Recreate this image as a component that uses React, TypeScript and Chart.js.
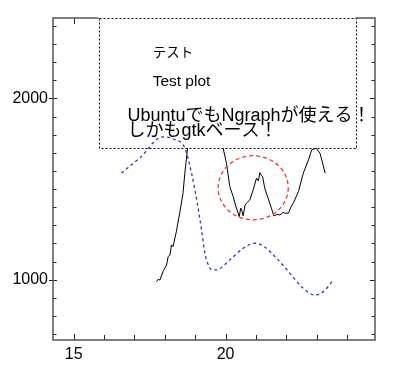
import React, { useEffect, useRef } from "react";
import { Chart, registerables } from "chart.js";

Chart.register(...registerables);

// black noisy measurement line
const blackX = [17.73, 17.78, 17.84, 17.94, 18.06, 18.11, 18.17, 18.22, 18.27, 18.38, 18.49, 18.6, 18.66, 18.75, 18.9, 19.4, 19.8, 19.92, 20.03, 20.14, 20.25, 20.36, 20.45, 20.5, 20.53, 20.58, 20.64, 20.69, 20.8, 20.91, 21.02, 21.08, 21.13, 21.18, 21.22, 21.29, 21.4, 21.51, 21.59, 21.7, 21.79, 21.9, 21.96, 22.07, 22.15, 22.23, 22.4, 22.56, 22.73, 22.84, 22.98, 23.11, 23.28];
const blackY = [989, 1002, 998, 1044, 1081, 1127, 1136, 1192, 1182, 1265, 1367, 1477, 1588, 1726, 1820, 1880, 1790, 1726, 1643, 1514, 1459, 1394, 1348, 1395, 1385, 1352, 1410, 1422, 1440, 1496, 1560, 1545, 1591, 1575, 1569, 1505, 1450, 1394, 1352, 1360, 1357, 1372, 1367, 1367, 1400, 1422, 1486, 1588, 1661, 1717, 1726, 1698, 1588];

// blue dashed smooth curve
const blueX = [16.57, 17.18, 17.93, 18.3, 18.66, 18.88, 19.07, 19.21, 19.32, 19.42, 19.54, 19.7, 20.14, 20.58, 20.97, 21.24, 21.68, 22.12, 22.56, 22.95, 23.22, 23.55];
const blueY = [1588, 1672, 1788, 1775, 1726, 1588, 1422, 1275, 1146, 1087, 1054, 1054, 1109, 1173, 1201, 1186, 1118, 1035, 952, 915, 934, 998];

// red dashed ellipse (center and radii in data units)
const circleCenterX = 20.91;
const circleCenterY = 1507;
const circleRadiusX = 1.154;
const circleRadiusY = 177;

// legend box (data units)
const boxLeft = 15.82;
const boxRight = 24.29;
const boxBottom = 1726;

const xTickLabels = [15, 20];
const yTickLabels = [1000, 2000];
const xMinorTicks = [15, 16, 17, 18, 19, 20, 21, 22, 23, 24];
const yMinorTicks = [700, 800, 900, 1000, 1100, 1200, 1300, 1400, 1500, 1600, 1700, 1800, 1900, 2000, 2100, 2200, 2300, 2400];
const xRange = [14.32, 24.92];
const yRange = [667, 2444];

const boxTexts = ["テスト", "Test plot", "UbuntuでもNgraphが使える！", "しかもgtkベース！"];
const boxTextX = [17.6, 17.6, 16.77, 16.77];
const boxTextY = [2247, 2094, 1873, 1794];

const FONT = "'Liberation Sans', 'Noto Sans CJK JP', sans-serif";

function drawFrame(chart: any) {
  const { ctx, chartArea: a, scales } = chart;
  const x = scales.x;
  const y = scales.y;
  ctx.save();
  ctx.setLineDash([]);
  ctx.strokeStyle = "#222";
  ctx.lineWidth = 1;
  for (const v of xMinorTicks) {
    const px = Math.round(x.getPixelForValue(v)) + 0.5;
    const len = v % 5 === 0 ? 6 : 5;
    ctx.beginPath();
    ctx.moveTo(px, a.bottom);
    ctx.lineTo(px, a.bottom - len);
    ctx.moveTo(px, a.top);
    ctx.lineTo(px, a.top + len);
    ctx.stroke();
  }
  for (const v of yMinorTicks) {
    const py = Math.round(y.getPixelForValue(v)) + 0.5;
    const major = v % 1000 === 0;
    ctx.beginPath();
    ctx.moveTo(a.left - (major ? 4 : 0), py);
    ctx.lineTo(a.left + (major ? 4 : 3.5), py);
    ctx.moveTo(a.right, py);
    ctx.lineTo(a.right - (major ? 5 : 3.5), py);
    ctx.stroke();
  }
  ctx.strokeStyle = "#555";
  ctx.lineWidth = 1.5;
  ctx.strokeRect(a.left, a.top, a.right - a.left, a.bottom - a.top);
  ctx.restore();
}

const ngraphPlugin = {
  id: "ngraph",
  beforeDatasetsDraw(chart: any) {
    drawFrame(chart);
  },
  afterDatasetDraw(chart: any, args: any) {
    if (args.index !== 0) return;
    const { ctx, scales } = chart;
    const x = scales.x;
    const y = scales.y;
    const l = x.getPixelForValue(boxLeft);
    const r = x.getPixelForValue(boxRight);
    const t = y.getPixelForValue(y.max);
    const b = y.getPixelForValue(boxBottom);
    ctx.save();
    ctx.fillStyle = "#fff";
    ctx.fillRect(l, t - 2, r - l, b - t + 2);
    ctx.strokeStyle = "#000";
    ctx.lineWidth = 1;
    ctx.setLineDash([2, 2]);
    ctx.strokeRect(Math.round(l) + 0.5, Math.round(t) + 0.5, Math.round(r - l), Math.round(b - t));
    ctx.restore();
  },
  afterDatasetsDraw(chart: any) {
    const { ctx, scales } = chart;
    const x = scales.x;
    const y = scales.y;
    ctx.save();
    const cx = x.getPixelForValue(circleCenterX);
    const cy = y.getPixelForValue(circleCenterY);
    const rx = Math.abs(x.getPixelForValue(circleCenterX + circleRadiusX) - cx);
    const ry = Math.abs(y.getPixelForValue(circleCenterY + circleRadiusY) - cy);
    ctx.strokeStyle = "#e03a3a";
    ctx.lineWidth = 1.3;
    ctx.setLineDash([4, 3]);
    ctx.beginPath();
    ctx.ellipse(cx, cy, rx, ry, 0, 0, Math.PI * 2);
    ctx.stroke();
    ctx.setLineDash([]);
    ctx.fillStyle = "#000";
    ctx.textAlign = "left";
    const sizes = [13.5, 15.5, 18, 18];
    const baselines = ["middle", "middle", "alphabetic", "alphabetic"];
    boxTexts.forEach((txt, i) => {
      ctx.font = `${sizes[i]}px ${FONT}`;
      ctx.textBaseline = baselines[i];
      ctx.fillText(txt, x.getPixelForValue(boxTextX[i]), y.getPixelForValue(boxTextY[i]));
    });
    ctx.restore();
  },
};

export default function App() {
  const ref = useRef<HTMLCanvasElement>(null);
  useEffect(() => {
    if (!ref.current) return;
    const chart = new Chart(ref.current, {
      type: "scatter",
      data: {
        datasets: [
          {
            data: blackX.map((v, i) => ({ x: v, y: blackY[i] })),
            showLine: true,
            borderColor: "#000",
            borderWidth: 1,
            pointRadius: 0,
            tension: 0,
            order: 1,
          },
          {
            data: blueX.map((v, i) => ({ x: v, y: blueY[i] })),
            showLine: true,
            borderColor: "#3434c8",
            borderWidth: 1.3,
            borderDash: [3, 3],
            pointRadius: 0,
            cubicInterpolationMode: "monotone",
            order: 0,
          },
        ],
      },
      options: {
        animation: false,
        responsive: false,
        events: [],
        layout: { padding: { top: 18, right: 25, left: 0, bottom: 0 } },
        plugins: { legend: { display: false }, tooltip: { enabled: false } },
        scales: {
          x: {
            type: "linear",
            min: xRange[0],
            max: xRange[1],
            grid: { display: false, drawTicks: false },
            border: { display: false },
            ticks: {
              font: { family: FONT, size: 16 },
              color: "#000",
              padding: 5,
              callback: (v: any) => String(v),
            },
            afterBuildTicks: (s: any) => {
              s.ticks = xTickLabels.map((v) => ({ value: v }));
            },
            afterFit: (s: any) => {
              s.height = 37;
            },
          },
          y: {
            type: "linear",
            min: yRange[0],
            max: yRange[1],
            grid: { display: false, drawTicks: false },
            border: { display: false },
            ticks: {
              font: { family: FONT, size: 16 },
              color: "#000",
              padding: 5,
              callback: (v: any) => String(v),
            },
            afterBuildTicks: (s: any) => {
              s.ticks = yTickLabels.map((v) => ({ value: v }));
            },
            afterFit: (s: any) => {
              s.width = 53;
            },
          },
        },
      },
      plugins: [ngraphPlugin],
    } as any);
    return () => chart.destroy();
  }, []);
  return (
    <div style={{ position: "absolute", left: 0, top: 0, width: 400, height: 377, background: "#fff" }}>
      <canvas ref={ref} width={400} height={377} />
    </div>
  );
}
